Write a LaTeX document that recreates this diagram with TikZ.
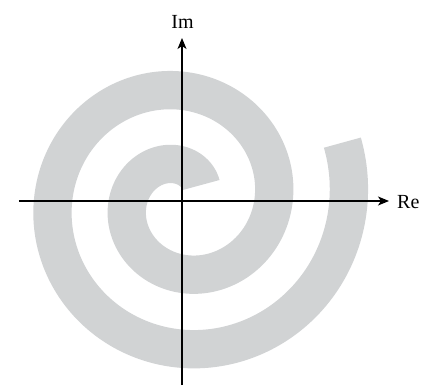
\documentclass[tikz,border=0pt]{standalone}
\usepackage{fontspec}
\setmainfont{Liberation Serif}
\usetikzlibrary{arrows.meta}
\definecolor{spiralgray}{RGB}{209,211,212}
\begin{document}
\begin{tikzpicture}[x=1pt,y=1pt,
  axisline/.style={line width=1.6pt, black, -{Stealth[length=11pt,width=9pt,inset=3pt]}},
  band/.style={line width=38.3pt, spiralgray, line cap=butt},
  axislabel/.style={inner sep=0pt, font=\fontsize{20}{24}\selectfont}]
\useasboundingbox (-182,-184) rectangle (253,201);
% spiral
\draw[band] plot[domain=40:740, samples=500, smooth]
  ({(16.5+0.208333*\x)*cos(\x)}, {(16.5+0.208333*\x)*sin(\x)});
% axes
\coordinate (xs) at (-163,0);
\coordinate (xe) at (207,0);
\coordinate (ys) at (0,-184);
\coordinate (ye) at (0,163);
\draw[axisline] (xs) -- (xe);
\draw[axisline] (ys) -- (ye);
\node[axislabel, anchor=base west] (re) at (215,-7) {Re};
\node[axislabel, anchor=base] (im) at (0.5,172.7) {Im};
\end{tikzpicture}
\end{document}
